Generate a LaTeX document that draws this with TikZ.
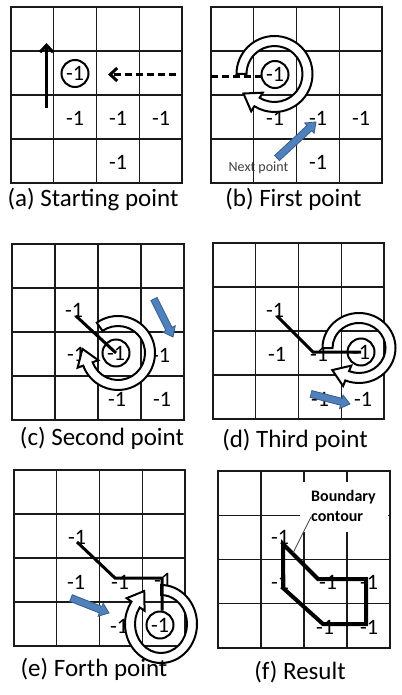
\documentclass[tikz,border=0pt]{standalone}
\usepackage{fontspec}
\setmainfont{Carlito}
\usetikzlibrary{arrows.meta,calc}
\definecolor{blueA}{HTML}{4F81BD}
\definecolor{blueB}{HTML}{385D8A}
\definecolor{gridc}{HTML}{1A1A1A}
\definecolor{labc}{HTML}{404040}
\tikzset{
 gridst/.style={draw=gridc, line width=1.3pt, line cap=rect},
 num/.style={inner sep=0pt, font=\fontsize{22}{22}\selectfont},
 circnum/.style={num, circle, draw, line width=2pt, minimum size=27pt, fill=white},
 capt/.style={anchor=base, inner sep=0pt, font=\fontsize{25}{25}\selectfont},
 pathst/.style={line width=3pt},
 dashst/.style={line width=3pt, dash pattern=on 7pt off 4pt},
 spiralst/.style={draw=black, fill=white, line width=2pt, line join=miter},
 contourst/.style={line width=4pt, line join=miter},
 bluest/.style={fill=blueA, draw=blueB, line width=0.8pt, line join=miter},
 barb/.style={-{Straight Barb[length=7pt,width=13pt]}},
}
\newcommand\panelgrid[4]{%
 \foreach \k in {0,...,4}{%
   \draw[gridst] ({#1+\k*#3/4},#2) -- ({#1+\k*#3/4},{#2+#4});
   \draw[gridst] (#1,{#2+\k*#4/4}) -- ({#1+#3},{#2+\k*#4/4});
 }}
\newcommand\spiralarrow[7]{%
  \pgfmathsetmacro\spC{cos(#6)}%
  \pgfmathsetmacro\spS{sin(#6)}%
  \pgfmathsetmacro\spMx{#1+(#3)*\spC}%
  \pgfmathsetmacro\spMy{#2+(#4)*\spS}%
  \pgfmathsetmacro\spTx{-(#3)*\spS}%
  \pgfmathsetmacro\spTy{(#4)*\spC}%
  \pgfmathsetmacro\spTn{sqrt(\spTx*\spTx+\spTy*\spTy)}%
  \pgfmathsetmacro\spUx{\spTx/\spTn}%
  \pgfmathsetmacro\spUy{\spTy/\spTn}%
  \pgfmathsetmacro\rxo{#3+5}\pgfmathsetmacro\ryo{#4+5}%
  \pgfmathsetmacro\rxi{#3-5}\pgfmathsetmacro\ryi{#4-5}%
  \draw[spiralst] ({#1+\rxo*cos(#5)},{#2+\ryo*sin(#5)})
     arc[start angle=#5, end angle=#6, x radius=\rxo, y radius=\ryo]
     -- ({\spMx+11*\spC},{\spMy+11*\spS})
     -- ({\spMx+#7*\spUx},{\spMy+#7*\spUy})
     -- ({\spMx-11*\spC},{\spMy-11*\spS})
     -- ({#1+\rxi*\spC},{#2+\ryi*\spS})
     arc[start angle=#6, end angle=#5, x radius=\rxi, y radius=\ryi]
     -- cycle;
}
\newcommand\bluearrow[2]{%
  \coordinate (bah) at ($(#2)!9pt!(#1)$);
  \filldraw[bluest] ($(#1)!3.5pt!90:(#2)$) -- ($(bah)!3.5pt!90:(#2)$)
    -- ($(bah)!7pt!90:(#2)$) -- (#2) -- ($(bah)!7pt!-90:(#2)$)
    -- ($(bah)!3.5pt!-90:(#2)$) -- ($(#1)!3.5pt!-90:(#2)$) -- cycle;
}
\begin{document}
\begin{tikzpicture}[x=1pt,y=1pt,yscale=-1]
\fill[white] (0,0) rectangle (401,695);
\path[use as bounding box] (0,0) rectangle (401,695);

% ---------- (a)
\panelgrid{11}{7}{171}{176}
\node[num] (a1) at (75,118) {-1};
\node[num] (a2) at (118,118) {-1};
\node[num] (a3) at (161,118) {-1};
\node[num] (a4) at (118,162) {-1};
\node[circnum] (a0) at (75,73.5) {-1};
\coordinate (aup1) at (46.5,108);
\coordinate (aup2) at (46.5,43);
\draw[pathst, barb] (aup1) -- (aup2);
\coordinate (ad1) at (176,74.5);
\coordinate (ad2) at (108,74.5);
\draw[dashst, barb] (ad1) -- (ad2);
\node[capt] (capa) at (93,206) {(a) Starting point};

% ---------- (b)
\panelgrid{211}{7}{171}{176}
\node[num] (b1) at (275,118) {-1};
\node[num] (b2) at (318,118) {-1};
\node[num] (b3) at (361,118) {-1};
\node[num] (b4) at (318,162) {-1};
\spiralarrow{274.5}{74}{33}{33}{180}{482}{16}
\node[circnum] (b0) at (275,74.5) {-1};
\coordinate (bd1) at (211,76.5);
\coordinate (bd2) at (262,76.5);
\draw[dashst] (bd1) -- (bd2);
\coordinate (bb1) at (277,158);
\coordinate (bb2) at (316,122);
\bluearrow{bb1}{bb2}
\node[inner sep=0pt, text=labc, font=\fontsize{14}{14}\selectfont] (bnext) at (258.5,168) {Next point};
\node[capt] (capb) at (293.5,206) {(b) First point};

% ---------- (c)
\panelgrid{12}{244}{172}{176}
\node[num] (c1) at (74,310) {-1};
\node[num] (c2) at (76,354) {-1};
\node[num] (c3) at (161,355) {-1};
\node[num] (c4) at (117,399) {-1};
\node[num] (c5) at (162,399) {-1};
\spiralarrow{118}{353}{32}{32}{235}{520}{16}
\node[circnum] (c0) at (116,353) {-1};
\coordinate (cl1) at (76,316);
\draw[pathst] (cl1) -- (c0.center);
\coordinate (cb1) at (154,299);
\coordinate (cb2) at (173,337);
\bluearrow{cb1}{cb2}
\node[capt] (capc) at (102,445) {(c) Second point};

% ---------- (d)
\panelgrid{213}{243}{171}{176}
\node[num] (d1) at (275,310) {-1};
\node[num] (d2) at (277,354) {-1};
\node[num] (d3) at (319,354) {-1};
\node[num] (d4) at (320,399) {-1};
\node[num] (d5) at (363,399) {-1};
\spiralarrow{359}{348}{31.5}{30}{180}{472}{16}
\node[circnum] (d0) at (361,352) {-1};
\coordinate (dl1) at (277,316);
\coordinate (dl2) at (313,352);
\draw[pathst] (dl1) -- (dl2) -- (d0.center);
\coordinate (db1) at (311,394);
\coordinate (db2) at (350,404);
\bluearrow{db1}{db2}
\node[capt] (capd) at (295,447) {(d) Third point};

% ---------- (e)
\panelgrid{14}{470}{171}{176}
\node[num] (e1) at (77,537) {-1};
\node[num] (e2) at (76,582) {-1};
\node[num] (e3) at (120,582) {-1};
\node[num] (e4) at (163,580) {-1};
\node[num] (e5) at (119,626) {-1};
\spiralarrow{161}{624}{31}{34}{270}{575}{16}
\node[circnum] (e0) at (160,625) {-1};
\coordinate (el1) at (77,542);
\coordinate (el2) at (115,578);
\coordinate (el3) at (162,578);
\draw[pathst] (el1) -- (el2) -- (el3) -- (el3 |- e0.north);
\coordinate (eb1) at (71,598);
\coordinate (eb2) at (109,613);
\bluearrow{eb1}{eb2}
\node[capt] (cape) at (94,676) {(e) Forth point};

% ---------- (f)
\panelgrid{218}{471}{172}{177}
\fill[white] (300,482) rectangle (388,532);
\node[num] (f1) at (280,537) {-1};
\node[num] (f2) at (280,582) {-1};
\node[num] (f3) at (328,582) {-1};
\node[num] (f4) at (369,582) {-1};
\node[num] (f5) at (325,627) {-1};
\node[num] (f6) at (369,627) {-1};
\coordinate (p1) at (283,544);
\coordinate (p2) at (283,588);
\coordinate (p3) at (323,624);
\coordinate (p4) at (366,624);
\coordinate (p5) at (366,579);
\coordinate (p6) at (318,579);
\draw[contourst] (p1) -- (p2) -- (p3) -- (p4) -- (p5) -- (p6) -- cycle;
\node[anchor=west, inner sep=0pt, font=\bfseries\fontsize{16}{16}\selectfont] (fbnd) at (311,497) {Boundary};
\node[anchor=west, inner sep=0pt, font=\bfseries\fontsize{16}{16}\selectfont] (fcnt) at (311,517) {contour};
\coordinate (fl2) at (293,553);
\draw[line width=0.7pt, labc] (fcnt.west) -- (fl2);
\node[capt] (capf) at (300,679) {(f) Result};
\end{tikzpicture}
\end{document}
